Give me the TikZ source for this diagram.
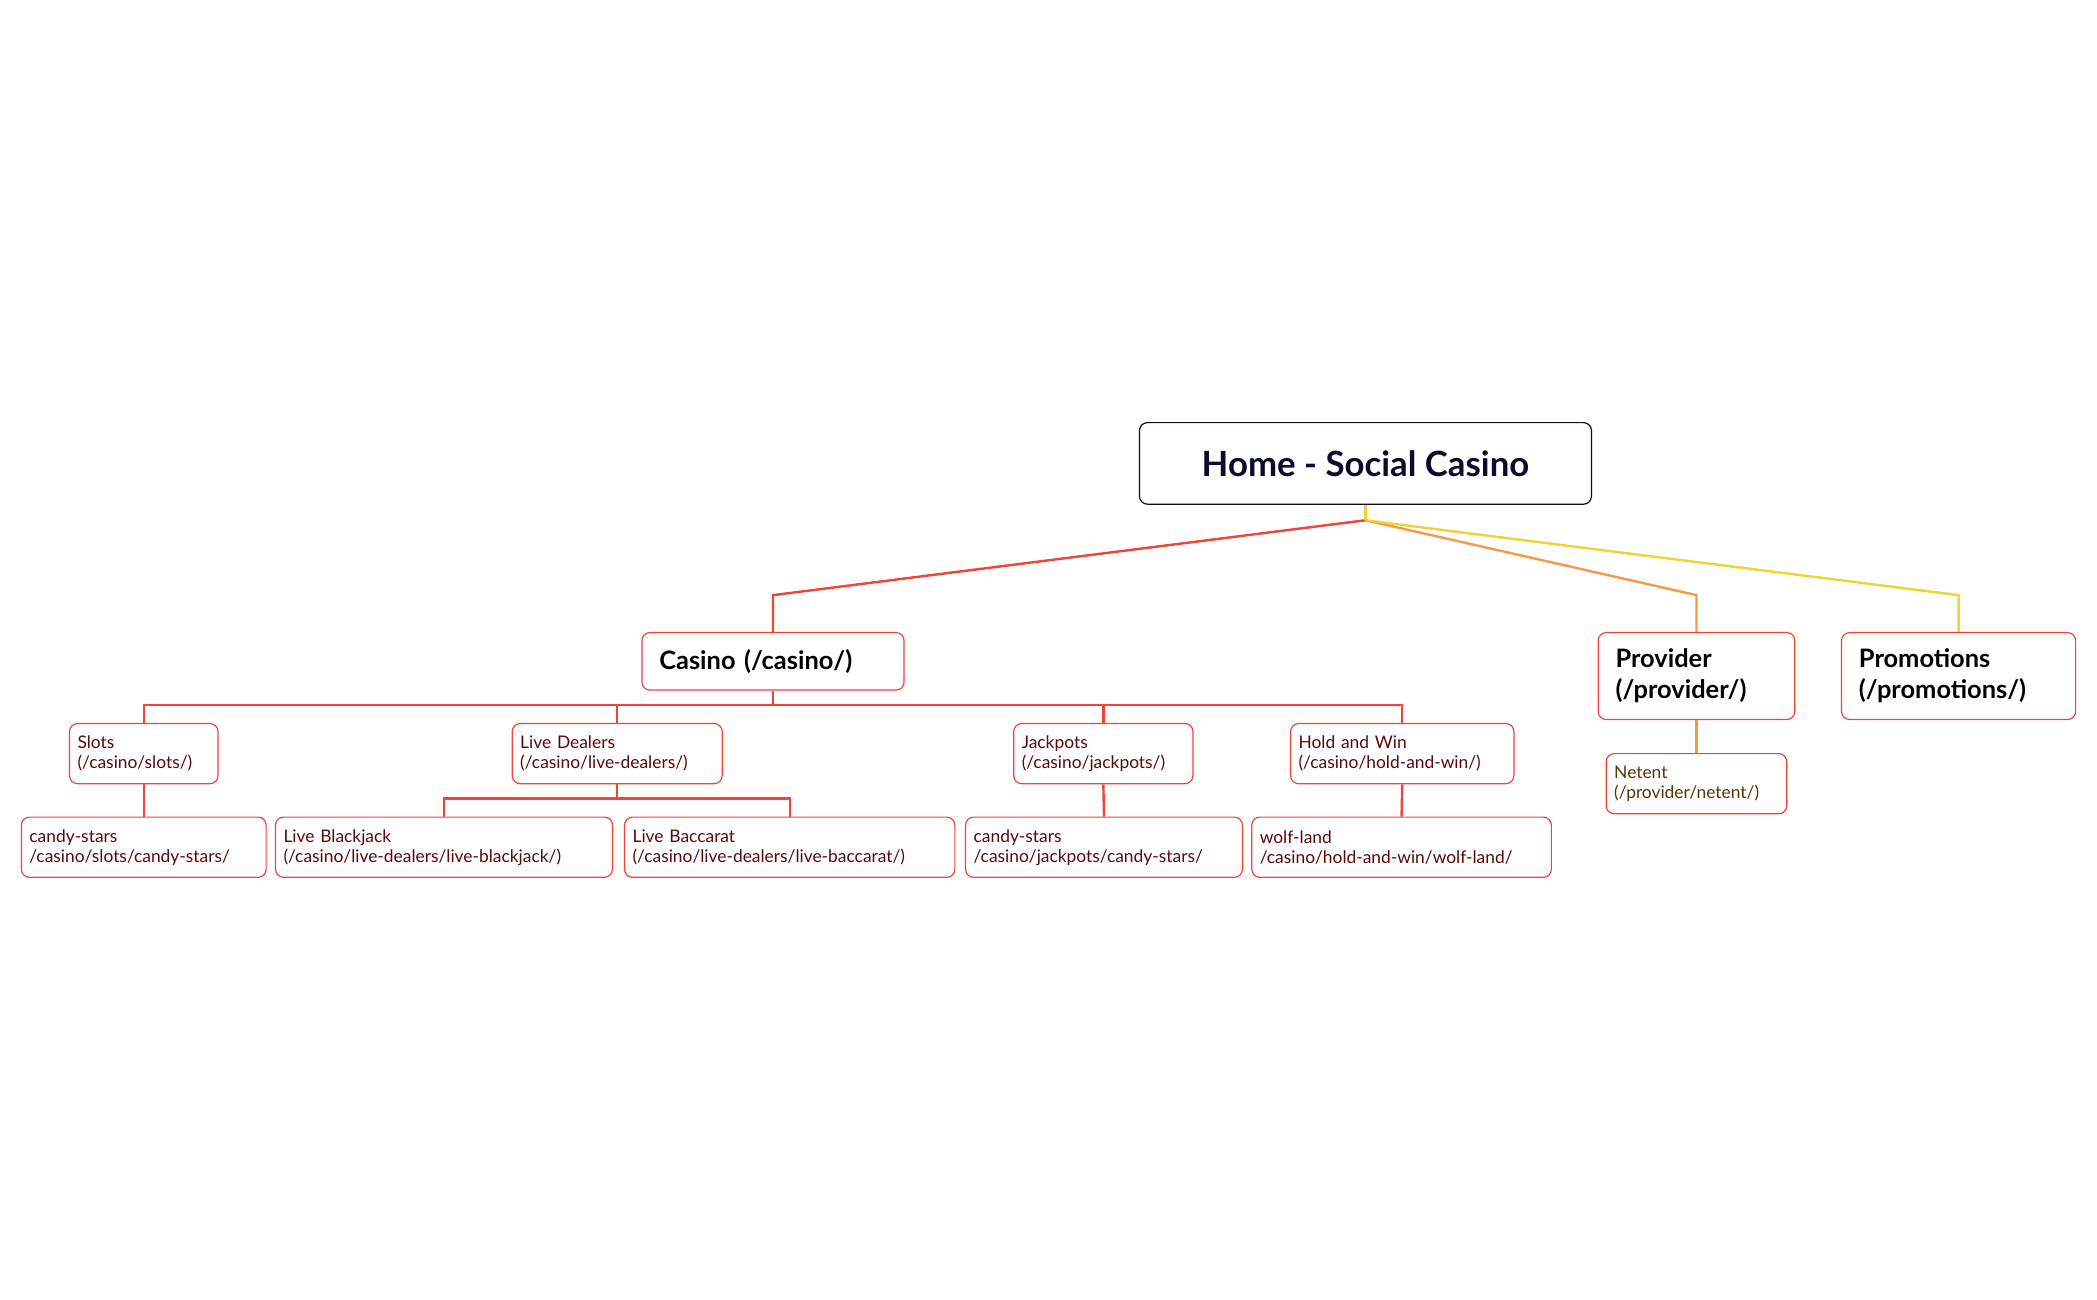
\documentclass[tikz,border=0pt]{standalone}
\usepackage{fontspec}
\setmainfont{Lato}
\definecolor{cred}{HTML}{F0443A}
\definecolor{corange}{HTML}{F59A48}
\definecolor{cyellow}{HTML}{F2D22E}
\definecolor{navy}{HTML}{0B0B2E}
\definecolor{dred}{HTML}{5A0808}
\definecolor{brown}{HTML}{5A3400}
\begin{document}
\begin{tikzpicture}[x=1pt,y=-1pt,
  box/.style={draw=cred, rounded corners=6pt, fill=white, line width=0.9pt, inner sep=6pt, align=left, minimum height=45pt},
  small/.style={box, font=\fontsize{13}{15}\selectfont, text=dred},
  big/.style={box, font=\fontsize{19}{23}\selectfont\bfseries, text=black, inner sep=10pt},
  lr/.style={draw=cred, line width=1.8pt},
  lo/.style={draw=corange, line width=1.8pt},
  ly/.style={draw=cyellow, line width=1.8pt}]
\useasboundingbox (0,0) rectangle (1568,972);
\node[box, draw=navy, minimum width=338pt, minimum height=61pt, align=center, font=\fontsize{26}{30}\selectfont\bfseries, text=navy] (home) at (1021,346.5) {Home - Social Casino};
\node[big, minimum width=196pt, minimum height=43pt, text width=170pt] (casino) at (578,494.5) {Casino (/casino/)};
\node[big, minimum width=147pt, minimum height=65pt, text width=121pt] (prov) at (1268.5,505.5) {Provider\\(/provider/)};
\node[big, minimum width=175pt, minimum height=65pt, text width=149pt] (promo) at (1464.5,505.5) {Promotions\\(/promotions/)};
\node[small, minimum width=111pt, text width=99pt] (slots) at (107.5,563.5) {Slots\\(/casino/slots/)};
\node[small, minimum width=157pt, text width=145pt] (live) at (461.5,563.5) {Live Dealers\\(/casino/live-dealers/)};
\node[small, minimum width=134pt, text width=122pt] (jack) at (825,563.5) {Jackpots\\(/casino/jackpots/)};
\node[small, minimum width=167pt, text width=155pt] (hold) at (1048.5,563.5) {Hold and Win\\(/casino/hold-and-win/)};
\node[small, text=brown, minimum width=135pt, text width=123pt] (netent) at (1268.5,586) {Netent\\(/provider/netent/)};
\node[small, minimum width=183pt, text width=171pt] (cs1) at (107.5,633.5) {candy-stars\\/casino/slots/candy-stars/};
\node[small, minimum width=252pt, text width=240pt] (lbj) at (332,633.5) {Live Blackjack\\(/casino/live-dealers/live-blackjack/)};
\node[small, minimum width=247pt, text width=235pt] (lbc) at (590.5,633.5) {Live Baccarat\\(/casino/live-dealers/live-baccarat/)};
\node[small, minimum width=207pt, text width=195pt] (cs2) at (825.5,633.5) {candy-stars\\/casino/jackpots/candy-stars/};
\node[small, minimum width=224pt, text width=212pt] (wolf) at (1048,633.5) {wolf-land\\/casino/hold-and-win/wolf-land/};
\coordinate (hj) at (1021,389);
\begin{scope}[on background layer/.try]
\end{scope}
\draw[lr] (hj) -- (578,445) -- (casino.north);
\draw[lo] (hj) -- (1268.5,445) -- (prov.north);
\draw[ly] (hj) -- (1464.5,445) -- (promo.north);
\draw[ly] (home.south) -- (hj);
\draw[lr] (casino.south) -- (578,527);
\draw[lr] (slots.north) -- (107.5,527) -- (1048.5,527) -- (hold.north);
\draw[lr] (461.5,527) -- (live.north);
\draw[lr] (825,527) -- (jack.north);
\draw[lr] (slots.south) -- (cs1.north);
\draw[lr] (live.south) -- (461.5,597);
\draw[lr] (lbj.north) -- (332,597) -- (590.5,597) -- (lbc.north);
\draw[lr] (jack.south) -- (cs2.north);
\draw[lr] (hold.south) -- (wolf.north);
\draw[lo] (prov.south) -- (netent.north);
\end{tikzpicture}
\end{document}
